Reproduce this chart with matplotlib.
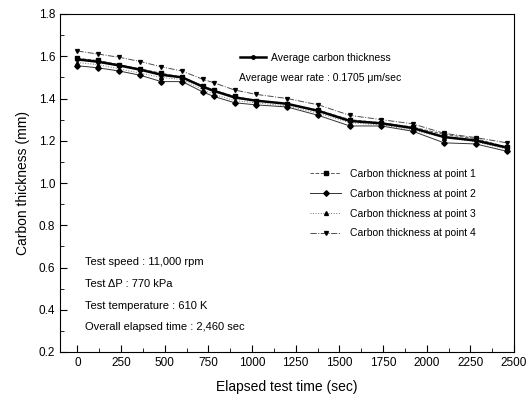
import matplotlib.pyplot as plt
import numpy as np

plt.rcParams['font.family'] = ['Liberation Sans', 'DejaVu Sans']

time_sec = [0, 120, 240, 360, 480, 600, 720, 780, 900, 1020, 1200, 1380, 1560, 1740, 1920, 2100, 2280, 2460]
point1 = [1.59, 1.58, 1.56, 1.54, 1.52, 1.50, 1.46, 1.44, 1.41, 1.39, 1.375, 1.345, 1.30, 1.285, 1.265, 1.23, 1.21, 1.17]
point2 = [1.555, 1.545, 1.53, 1.51, 1.48, 1.48, 1.43, 1.41, 1.38, 1.37, 1.36, 1.32, 1.27, 1.27, 1.245, 1.19, 1.185, 1.15]
point3 = [1.57, 1.56, 1.54, 1.52, 1.50, 1.49, 1.44, 1.42, 1.39, 1.38, 1.365, 1.33, 1.285, 1.275, 1.25, 1.215, 1.195, 1.16]
point4 = [1.625, 1.61, 1.595, 1.575, 1.55, 1.53, 1.49, 1.475, 1.44, 1.42, 1.40, 1.37, 1.32, 1.30, 1.28, 1.235, 1.215, 1.19]
average = list(np.mean([point1, point2, point3, point4], axis=0))

fig = plt.figure(figsize=(5.28, 4.07), dpi=100)
ax = fig.add_axes([60 / 528, 1 - 352 / 407, 454 / 528, 338 / 407])

l1, = ax.plot(time_sec, point1, color='0.35', lw=0.7, ls='--', marker='s', ms=2.8, mfc='k', mec='k')
l2, = ax.plot(time_sec, point2, color='0.2', lw=0.7, ls='-', marker='D', ms=2.8, mfc='k', mec='k')
l3, = ax.plot(time_sec, point3, color='0.45', lw=0.7, ls=':', marker='^', ms=2.8, mfc='k', mec='k')
l4, = ax.plot(time_sec, point4, color='0.3', lw=0.7, ls='-.', marker='v', ms=2.8, mfc='k', mec='k')
la, = ax.plot(time_sec, average, color='k', lw=1.8, ls='-', marker='o', ms=2.5, mfc='k', mec='k')

leg1 = ax.legend([la], ['Average carbon thickness'], loc='center left', bbox_to_anchor=(0.375, 0.87),
                 frameon=False, fontsize=7.5, handlelength=2.5, handletextpad=0.5)
ax.add_artist(leg1)
ax.text(0.395, 0.81, 'Average wear rate : 0.1705 \u03bcm/sec', transform=ax.transAxes, fontsize=7.5,
        va='center')
ax.legend([l1, l2, l3, l4],
          ['Carbon thickness at point 1', 'Carbon thickness at point 2',
           'Carbon thickness at point 3', 'Carbon thickness at point 4'],
          loc='upper left', bbox_to_anchor=(0.53, 0.57), frameon=False, fontsize=7.5, handlelength=3.0,
          labelspacing=0.95, handletextpad=0.8)

info = ['Test speed : 11,000 rpm', 'Test \u0394P : 770 kPa', 'Test temperature : 610 K',
        'Overall elapsed time : 2,460 sec']
for i, line in enumerate(info):
    ax.text(0.055, 0.265 - i * 0.064, line, transform=ax.transAxes, fontsize=8, va='center')

ax.set_xlim(-100, 2500)
ax.set_ylim(0.2, 1.8)
ax.set_xticks(np.arange(0, 2501, 250))
ax.set_xticks(np.arange(125, 2500, 250), minor=True)
ax.set_yticks(np.arange(0.2, 1.81, 0.2))
ax.set_yticks(np.arange(0.3, 1.8, 0.2), minor=True)
ax.set_yticklabels([f'{v:.1f}' for v in np.arange(0.2, 1.81, 0.2)])
ax.tick_params(direction='in', labelsize=8.5, length=5, width=0.8)
ax.tick_params(which='minor', direction='in', length=3, width=0.6)
ax.set_xlabel('Elapsed test time (sec)', fontsize=10, labelpad=8)
ax.set_ylabel('Carbon thickness (mm)', fontsize=10, labelpad=6)

fig.savefig('out.png', dpi=100)
